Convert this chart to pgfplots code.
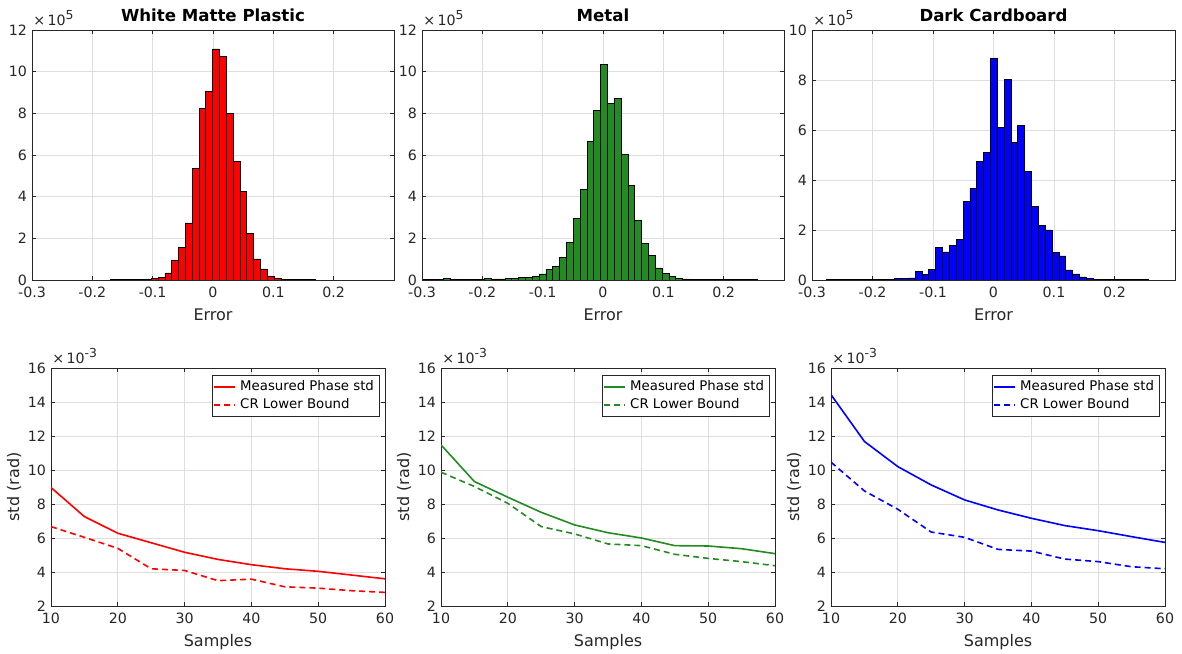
\documentclass[border=0pt]{standalone}
\usepackage{fontspec}
\setmainfont{DejaVu Sans}
\usepackage{pgfplots}
\pgfplotsset{compat=1.18}
\definecolor{axgray}{RGB}{38,38,38}
\definecolor{mgreen}{RGB}{34,139,34}
\definecolor{gridgray}{RGB}{222,222,222}

\pgfplotsset{
  matfig/.style={
    scale only axis, anchor=south west, clip mode=individual,
    axis line style={axgray, line width=0.45pt},
    every tick/.style={axgray, line width=0.45pt},
    major tick length=2.2pt, tick align=inside,
    grid=major, major grid style={gridgray, line width=0.45pt},
    ticklabel style={font=\fontsize{7.1}{8}\selectfont, text=axgray},
    yticklabel style={xshift=1pt},
    label style={font=\fontsize{8}{9}\selectfont, text=axgray},
    every axis title shift=0.5pt,
    title style={font=\bfseries\fontsize{8.3}{9}\selectfont},
    /pgf/number format/assume math mode=true,
  },
  hist/.style={matfig, width=181pt, height=125pt,
    xmin=-0.3, xmax=0.3, ymin=0,
    xtick={-0.3,-0.2,-0.1,0,0.1,0.2},
    xticklabels={-0.3,-0.2,-0.1,0,0.1,0.2},
    xlabel={Error}, xlabel style={yshift=1.5pt}},
  histbar/.style={ybar interval, fill=#1, draw=black, line width=0.4pt},
  stdax/.style={matfig, width=167pt, height=119pt,
    xmin=10, xmax=60, ymin=2, ymax=16,
    xtick={10,20,...,60}, ytick={2,4,...,16},
    xlabel={Samples}, ylabel={std (rad)},
    xlabel style={yshift=1.5pt}, ylabel style={yshift=-3.5pt},
    legend style={at={(0.985,0.972)}, anchor=north east, draw=axgray,
      fill=white, line width=0.45pt, font=\fontsize{6.65}{7.5}\selectfont,
      inner sep=0.8pt, row sep=-1.8pt},
    legend cell align=left,
    legend image code/.code={\draw[##1] (0pt,0pt) -- (10.5pt,0pt);},
  },
  meas/.style={#1, line width=0.8pt},
  crlb/.style={#1, line width=0.8pt, dash pattern=on 3pt off 2pt},
}

\newcommand{\scalelabel}[1]{\node[anchor=south west, inner sep=0pt, xshift=0.5pt, yshift=1.8pt,
  font=\fontsize{7.1}{8}\selectfont, text=axgray] at (rel axis cs:0,1)
  {×\,10\textsuperscript{\fontsize{6.2}{7}\selectfont #1}};}

\begin{document}
\begin{tikzpicture}
\useasboundingbox (0,0) rectangle (591pt,326.5pt);

% ---- histograms, counts in units of 1e5 ----
\begin{axis}[hist, at={(16pt,186.5pt)}, ymax=12, ytick={0,2,...,12},
  title={White Matte Plastic}]
\addplot[histbar=red] coordinates {
 (-0.1703,0.005)(-0.1590,0.005)(-0.1477,0.01)(-0.1363,0.01)(-0.1250,0.02)
 (-0.1137,0.03)(-0.1024,0.08)(-0.0911,0.14)(-0.0797,0.34)(-0.0684,0.93)
 (-0.0571,1.57)(-0.0458,2.74)(-0.0345,5.36)(-0.0231,8.22)(-0.0118,9.06)
 (-0.0005,11.09)(0.0108,10.75)(0.0221,8.00)(0.0335,5.68)(0.0448,4.26)
 (0.0561,2.22)(0.0674,1.01)(0.0787,0.53)(0.0901,0.18)(0.1014,0.06)
 (0.1127,0.03)(0.1240,0.02)(0.1353,0.01)(0.1467,0.01)(0.1580,0.005)
 (0.1693,0)
};
\scalelabel{5}
\end{axis}

\begin{axis}[hist, at={(211pt,186.5pt)}, ymax=12, ytick={0,2,...,12},
  title={Metal}]
\addplot[histbar=mgreen] coordinates {
 (-0.2982,0.02)(-0.2869,0.02)(-0.2756,0.03)(-0.2643,0.06)(-0.2530,0.03)
 (-0.2416,0.02)(-0.2303,0.02)(-0.2190,0.03)(-0.2077,0.04)(-0.1963,0.09)
 (-0.1850,0.05)(-0.1737,0.05)(-0.1624,0.06)(-0.1511,0.08)(-0.1397,0.14)
 (-0.1284,0.14)(-0.1171,0.19)(-0.1058,0.29)(-0.0945,0.51)(-0.0831,0.65)
 (-0.0718,1.07)(-0.0605,1.81)(-0.0492,2.96)(-0.0379,4.35)(-0.0265,6.65)
 (-0.0152,8.15)(-0.0039,10.34)(0.0074,8.47)(0.0187,8.72)(0.0301,6.01)
 (0.0414,4.54)(0.0527,2.86)(0.0640,1.76)(0.0753,1.18)(0.0867,0.58)
 (0.0980,0.32)(0.1093,0.16)(0.1206,0.08)(0.1319,0.05)(0.1433,0.03)
 (0.1546,0.02)(0.1659,0.02)(0.1772,0.01)(0.1885,0.01)(0.1999,0.01)
 (0.2112,0.01)(0.2225,0.01)(0.2338,0.01)(0.2451,0.01)(0.2565,0)
};
\scalelabel{5}
\end{axis}

\begin{axis}[hist, at={(406pt,186.5pt)}, width=181.5pt, ymax=10, ytick={0,2,...,10},
  title={Dark Cardboard}]
\addplot[histbar=blue] coordinates {
 (-0.2767,0.005)(-0.2654,0.005)(-0.2540,0.005)(-0.2427,0.005)(-0.2314,0.005)
 (-0.2201,0.005)(-0.2088,0.005)(-0.1974,0.005)(-0.1861,0.01)(-0.1748,0.03)
 (-0.1635,0.05)(-0.1522,0.07)(-0.1408,0.08)(-0.1295,0.33)(-0.1182,0.23)
 (-0.1069,0.43)(-0.0956,1.29)(-0.0842,1.12)(-0.0729,1.39)(-0.0616,1.61)
 (-0.0503,3.13)(-0.0390,3.65)(-0.0276,4.73)(-0.0163,5.11)(-0.0050,8.85)
 (0.0063,6.11)(0.0176,8.01)(0.0290,5.51)(0.0403,6.19)(0.0516,4.35)
 (0.0629,2.93)(0.0742,2.19)(0.0856,2.00)(0.0969,1.09)(0.1082,0.96)
 (0.1195,0.40)(0.1308,0.24)(0.1422,0.12)(0.1535,0.05)(0.1648,0.03)
 (0.1761,0.03)(0.1874,0.01)(0.1988,0.005)(0.2101,0.005)(0.2214,0.005)
 (0.2327,0.005)(0.2440,0.005)(0.2554,0)
};
\scalelabel{5}
\end{axis}

% ---- std vs samples, values in units of 1e-3 rad ----
\begin{axis}[stdax, at={(25.5pt,23.5pt)}]
\addplot[meas=red] coordinates {
 (10,8.97)(15,7.26)(20,6.28)(25,5.72)(30,5.16)(35,4.74)
 (40,4.43)(45,4.19)(50,4.04)(55,3.82)(60,3.60)};
\addplot[crlb=red] coordinates {
 (10,6.67)(15,6.04)(20,5.39)(25,4.19)(30,4.09)(35,3.49)
 (40,3.58)(45,3.13)(50,3.05)(55,2.90)(60,2.80)};
\legend{Measured Phase std, CR Lower Bound}
\scalelabel{-3}
\end{axis}

\begin{axis}[stdax, at={(220.5pt,23.5pt)}]
\addplot[meas=mgreen] coordinates {
 (10,11.48)(15,9.32)(20,8.40)(25,7.51)(30,6.77)(35,6.31)
 (40,6.00)(45,5.55)(50,5.53)(55,5.37)(60,5.08)};
\addplot[crlb=mgreen] coordinates {
 (10,9.87)(15,9.03)(20,8.04)(25,6.67)(30,6.24)(35,5.65)
 (40,5.55)(45,5.04)(50,4.80)(55,4.61)(60,4.37)};
\legend{Measured Phase std, CR Lower Bound}
\scalelabel{-3}
\end{axis}

\begin{axis}[stdax, at={(415.5pt,23.5pt)}]
\addplot[meas=blue] coordinates {
 (10,14.43)(15,11.68)(20,10.20)(25,9.12)(30,8.24)(35,7.65)
 (40,7.16)(45,6.73)(50,6.43)(55,6.08)(60,5.74)};
\addplot[crlb=blue] coordinates {
 (10,10.46)(15,8.77)(20,7.69)(25,6.35)(30,6.04)(35,5.33)
 (40,5.23)(45,4.76)(50,4.61)(55,4.31)(60,4.19)};
\legend{Measured Phase std, CR Lower Bound}
\scalelabel{-3}
\end{axis}
\end{tikzpicture}
\end{document}
